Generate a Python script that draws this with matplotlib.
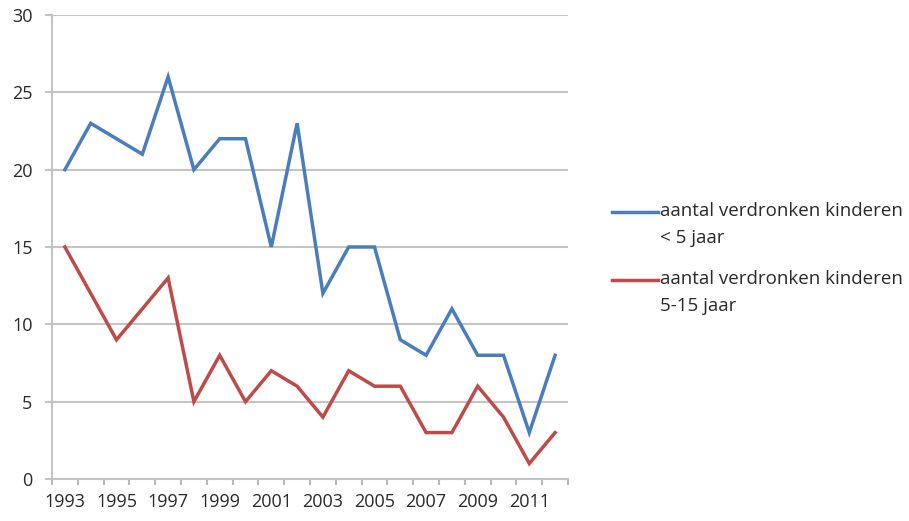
import matplotlib
matplotlib.use("Agg")
import matplotlib.pyplot as plt
from matplotlib.lines import Line2D
import numpy as np

years = list(range(1993, 2013))
under5 = [20, 23, 22, 21, 26, 20, 22, 22, 15, 23, 12, 15, 15, 9, 8, 11, 8, 8, 3, 8]
age5_15 = [15, 12, 9, 11, 13, 5, 8, 5, 7, 6, 4, 7, 6, 6, 3, 3, 6, 4, 1, 3]
labels = ["aantal verdronken kinderen\n< 5 jaar", "aantal verdronken kinderen\n5-15 jaar"]
colors = ['#4a7ebb', '#be4b48']

plt.rcParams['font.family'] = ['Open Sans', 'DejaVu Sans']

fig = plt.figure(figsize=(9.09, 5.21), dpi=100)
ax = fig.add_axes([52 / 909, 42 / 521, 516 / 909, 464 / 521])

x = np.arange(len(years))
ax.plot(x, under5, color=colors[0], lw=2.5, solid_joinstyle='miter')
ax.plot(x, age5_15, color=colors[1], lw=2.5, solid_joinstyle='miter')

ax.set_xlim(-0.5, len(years) - 0.5)
ax.set_ylim(0, 30)
ax.set_yticks(range(0, 31, 5))
ax.yaxis.grid(True, color='#c4c4c4', lw=1.5)
ax.set_axisbelow(True)

# category ticks between points, labels every other year
ax.set_xticks(np.arange(-0.5, len(years), 1), minor=True)
ax.set_xticks(x[::2])
ax.set_xticklabels([str(y) for y in years[::2]])
ax.tick_params(axis='x', which='major', length=0, pad=10)
ax.tick_params(axis='x', which='minor', length=4, color='#b8b8b8', width=1.5)
ax.tick_params(axis='y', length=5, color='#c4c4c4', width=1.5, pad=9)
ax.tick_params(labelsize=13, labelcolor='#2a2a2a')

for s in ['top', 'right']:
    ax.spines[s].set_visible(False)
for s in ['left', 'bottom']:
    ax.spines[s].set_color('#c4c4c4')
    ax.spines[s].set_linewidth(1.5)

# legend: handle aligned with first text line, as in the original
for i, (lab, c) in enumerate(zip(labels, colors)):
    yy = 1 - (212 + 68 * i) / 521
    fig.add_artist(Line2D([612 / 909, 658 / 909], [yy, yy], color=c, lw=2.5))
    fig.text(660 / 909, yy + 10 / 521, lab, fontsize=13.5, color='#2a2a2a',
             va='top', ha='left', linespacing=1.65)

fig.savefig('out.png', dpi=100)
